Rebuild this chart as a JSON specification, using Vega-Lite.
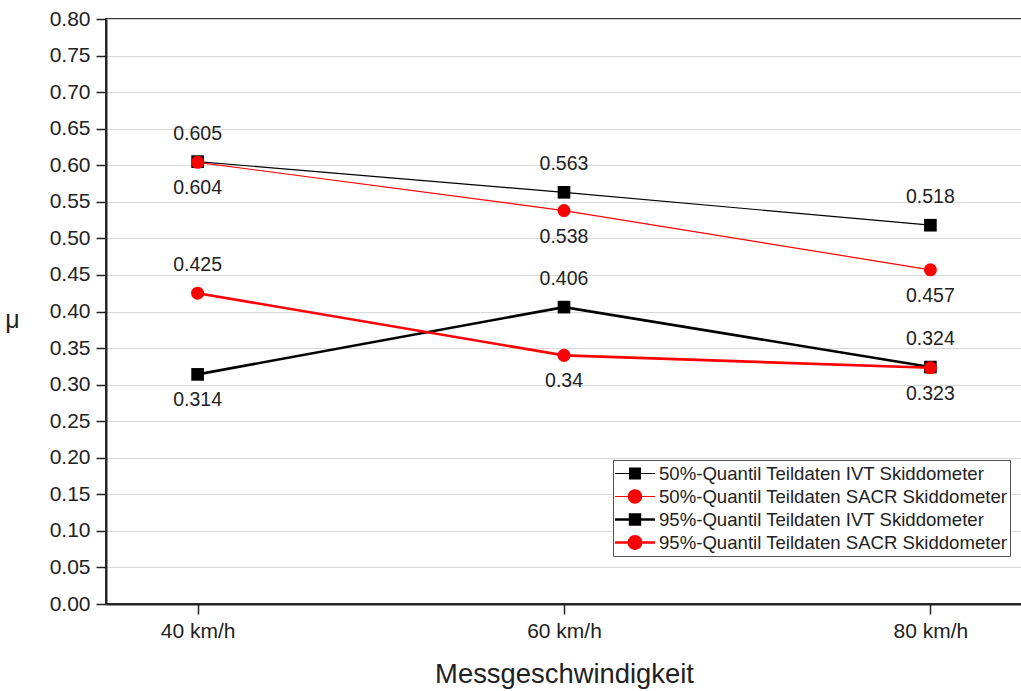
{
  "$schema": "https://vega.github.io/schema/vega-lite/v6.json",
  "width": 916,
  "height": 585,
  "autosize": {"type": "none"},
  "padding": {"left": 106, "top": 19, "right": 0, "bottom": 87},
  "background": "white",
  "config": {
    "font": "Liberation Sans",
    "view": {"stroke": "#333333", "strokeWidth": 2},
    "axis": {
      "domainColor": "#222222",
      "domainWidth": 2,
      "tickColor": "#222222",
      "tickWidth": 1.5,
      "tickSize": 10,
      "labelColor": "#222222",
      "titleColor": "#222222",
      "labelFont": "Liberation Sans",
      "titleFont": "Liberation Sans",
      "titleFontWeight": "normal"
    },
    "legend": {
      "orient": "none",
      "legendX": 507,
      "legendY": 441,
      "direction": "vertical",
      "strokeColor": "#555555",
      "fillColor": "white",
      "padding": 2,
      "labelFontSize": 18.6,
      "labelColor": "#222222",
      "labelFont": "Liberation Sans",
      "labelOffset": 4,
      "symbolSize": 1600,
      "symbolOpacity": 1,
      "symbolStrokeWidth": 0,
      "clipHeight": 23,
      "rowPadding": 0,
      "labelLimit": 400
    }
  },
  "data": {
    "values": [
      {"series": "50%-Quantil Teildaten IVT Skiddometer", "speed": "40 km/h", "mu": 0.605, "side": "above"},
      {"series": "50%-Quantil Teildaten IVT Skiddometer", "speed": "60 km/h", "mu": 0.563, "side": "above"},
      {"series": "50%-Quantil Teildaten IVT Skiddometer", "speed": "80 km/h", "mu": 0.518, "side": "above"},
      {"series": "95%-Quantil Teildaten IVT Skiddometer", "speed": "40 km/h", "mu": 0.314, "side": "below"},
      {"series": "95%-Quantil Teildaten IVT Skiddometer", "speed": "60 km/h", "mu": 0.406, "side": "above"},
      {"series": "95%-Quantil Teildaten IVT Skiddometer", "speed": "80 km/h", "mu": 0.324, "side": "above"},
      {"series": "50%-Quantil Teildaten SACR Skiddometer", "speed": "40 km/h", "mu": 0.604, "side": "below"},
      {"series": "50%-Quantil Teildaten SACR Skiddometer", "speed": "60 km/h", "mu": 0.538, "side": "below"},
      {"series": "50%-Quantil Teildaten SACR Skiddometer", "speed": "80 km/h", "mu": 0.457, "side": "below"},
      {"series": "95%-Quantil Teildaten SACR Skiddometer", "speed": "40 km/h", "mu": 0.425, "side": "above"},
      {"series": "95%-Quantil Teildaten SACR Skiddometer", "speed": "60 km/h", "mu": 0.34, "side": "below"},
      {"series": "95%-Quantil Teildaten SACR Skiddometer", "speed": "80 km/h", "mu": 0.323, "side": "below"}
    ]
  },
  "encoding": {
    "x": {
      "field": "speed",
      "type": "nominal",
      "sort": ["40 km/h", "60 km/h", "80 km/h"],
      "scale": {"type": "point", "padding": 0.25},
      "axis": {
        "title": "Messgeschwindigkeit",
        "labelAngle": 0,
        "labelFontSize": 21,
        "labelPadding": 6,
        "titleFontSize": 27.4,
        "titlePadding": 19,
        "grid": false
      }
    },
    "y": {
      "field": "mu",
      "type": "quantitative",
      "scale": {"domain": [0, 0.8], "nice": false, "zero": true},
      "axis": {
        "title": "μ",
        "titleAngle": 0,
        "titleFontSize": 25,
        "titleX": -94,
        "titleY": 300,
        "titleBaseline": "middle",
        "values": [0, 0.05, 0.1, 0.15, 0.2, 0.25, 0.3, 0.35, 0.4, 0.45, 0.5, 0.55, 0.6, 0.65, 0.7, 0.75, 0.8],
        "format": ".2f",
        "labelFontSize": 21,
        "labelPadding": 6,
        "grid": true,
        "gridColor": "#d9d9d9",
        "gridWidth": 1.2
      }
    }
  },
  "layer": [
    {
      "mark": {"type": "point", "filled": true, "opacity": 0, "size": 10},
      "encoding": {
        "color": {
          "field": "series",
          "type": "nominal",
          "scale": {
            "domain": [
              "50%-Quantil Teildaten IVT Skiddometer",
              "50%-Quantil Teildaten SACR Skiddometer",
              "95%-Quantil Teildaten IVT Skiddometer",
              "95%-Quantil Teildaten SACR Skiddometer"
            ],
            "range": ["#000000", "#ff0000", "#000000", "#ff0000"]
          },
          "legend": {"title": null}
        },
        "shape": {
          "field": "series",
          "type": "nominal",
          "scale": {
            "domain": [
              "50%-Quantil Teildaten IVT Skiddometer",
              "50%-Quantil Teildaten SACR Skiddometer",
              "95%-Quantil Teildaten IVT Skiddometer",
              "95%-Quantil Teildaten SACR Skiddometer"
            ],
            "range": [
              "M-1,-0.03H1V0.03H-1ZM-0.3,-0.3H0.3V0.3H-0.3Z",
              "M-1,-0.03H1V0.03H-1ZM-0.36,0A0.36,0.36 0 1,1 0.36,0A0.36,0.36 0 1,1 -0.36,0Z",
              "M-1,-0.065H1V0.065H-1ZM-0.31,-0.31H0.31V0.31H-0.31Z",
              "M-1,-0.065H1V0.065H-1ZM-0.37,0A0.37,0.37 0 1,1 0.37,0A0.37,0.37 0 1,1 -0.37,0Z"
            ]
          },
          "legend": {"title": null}
        }
      }
    },
    {
      "transform": [{"filter": "indexof(datum.series, '50%') === 0"}],
      "mark": {"type": "line", "strokeWidth": 1.2},
      "encoding": {
        "color": {"field": "series", "type": "nominal", "legend": null}
      }
    },
    {
      "transform": [{"filter": "indexof(datum.series, '95%') === 0"}],
      "mark": {"type": "line", "strokeWidth": 2.6},
      "encoding": {
        "color": {"field": "series", "type": "nominal", "legend": null}
      }
    },
    {
      "transform": [{"filter": "indexof(datum.series, 'IVT') >= 0"}],
      "mark": {"type": "square", "size": 160, "opacity": 1},
      "encoding": {
        "color": {"field": "series", "type": "nominal", "legend": null}
      }
    },
    {
      "transform": [{"filter": "indexof(datum.series, 'SACR') >= 0"}],
      "mark": {"type": "circle", "size": 170, "opacity": 1},
      "encoding": {
        "color": {"field": "series", "type": "nominal", "legend": null}
      }
    },
    {
      "transform": [{"filter": "datum.side === 'above'"}],
      "mark": {"type": "text", "dy": -28, "fontSize": 19.5, "color": "#222222", "font": "Liberation Sans", "baseline": "middle"},
      "encoding": {"text": {"field": "mu", "type": "quantitative"}}
    },
    {
      "transform": [{"filter": "datum.side === 'below'"}],
      "mark": {"type": "text", "dy": 26, "fontSize": 19.5, "color": "#222222", "font": "Liberation Sans", "baseline": "middle"},
      "encoding": {"text": {"field": "mu", "type": "quantitative"}}
    }
  ]
}
